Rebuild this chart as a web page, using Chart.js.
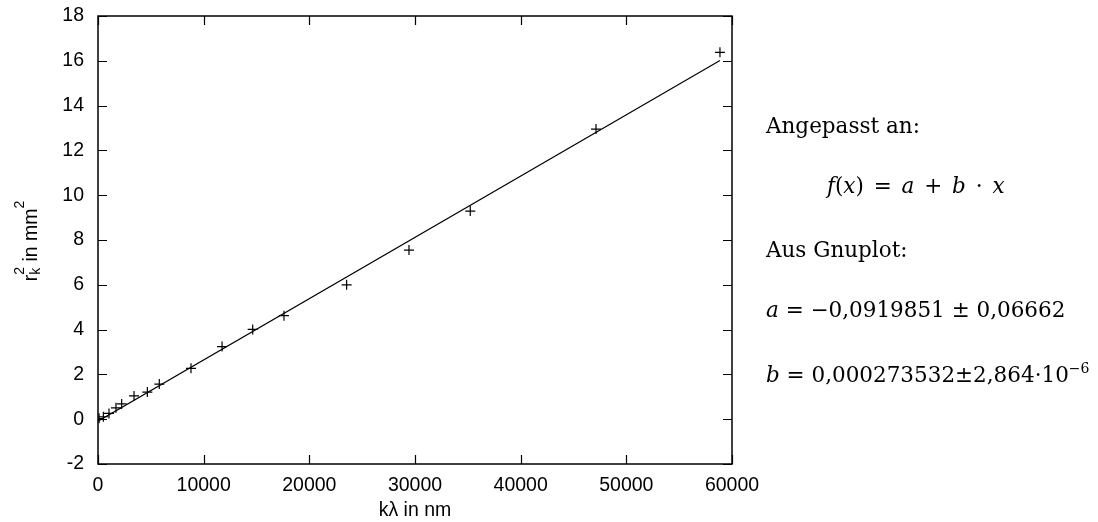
<!DOCTYPE html>
<html>
<head>
<meta charset="utf-8">
<script src="https://cdn.jsdelivr.net/npm/chart.js@4"></script>
<style>
  body { margin:0; background:#fff; }
  #wrap { position:relative; width:1098px; height:522px; }
  canvas { position:absolute; left:0; top:0; }
  .txt { position:absolute; left:766px; font-family:"DejaVu Serif", serif; font-size:21.5px; line-height:20px; color:#000; white-space:nowrap; }
  .txt i { font-style:italic; }
  .txt sup { font-size:14px; line-height:0; vertical-align:9px; }
</style>
</head>
<body>
<div id="wrap">
  <canvas id="fitChart" width="1098" height="522"></canvas>
  <div class="txt" style="top:116px">Angepasst an:</div>
  <div class="txt" style="top:176px;left:827px;word-spacing:3px"><i>f</i>(<i>x</i>) = <i>a</i> + <i>b</i> · <i>x</i></div>
  <div class="txt" style="top:240px">Aus Gnuplot:</div>
  <div class="txt" style="top:300px"><i>a</i> = −0,0919851 ± 0,06662</div>
  <div class="txt" style="top:365px"><i>b</i> = 0,000273532±2,864·10<sup>−6</sup></div>
</div>
<script>
// DATA
const klambda = [100, 505, 1040, 1700, 2240, 3410, 4670, 5800, 8800, 11740, 14640, 17600, 23530, 29430, 35230, 47130, 58860];
const rk2 = [0.04, 0.11, 0.26, 0.51, 0.68, 1.04, 1.21, 1.57, 2.27, 3.24, 4.01, 4.62, 6.00, 7.55, 9.29, 12.95, 16.38];
// fit line a + b*x, end points
const fitX = [0, 58860];
const fitY = [-0.09, 16.01];
const xTicks = [0, 10000, 20000, 30000, 40000, 50000, 60000];
const yTicks = [-2, 0, 2, 4, 6, 8, 10, 12, 14, 16, 18];

const tickFont = { family: "'Liberation Sans', Arial, sans-serif", size: 19.5 };

// gnuplot style frame with inward ticks on all four sides
const frame = {
    id: 'frame',
    afterDraw(chart) {
        const c = chart.ctx, a = chart.chartArea;
        const xs = chart.scales.x, ys = chart.scales.y;
        c.save();
        c.strokeStyle = '#000';
        c.lineWidth = 1.5;
        c.strokeRect(a.left, a.top, a.right - a.left, a.bottom - a.top);
        c.lineWidth = 1.2;
        c.beginPath();
        xTicks.forEach(v => {
            const px = Math.round(xs.getPixelForValue(v)) + 0.5;
            c.moveTo(px, a.bottom); c.lineTo(px, a.bottom - 9);
            c.moveTo(px, a.top); c.lineTo(px, a.top + 9);
        });
        yTicks.forEach(v => {
            const py = Math.round(ys.getPixelForValue(v)) + 0.5;
            c.moveTo(a.left, py); c.lineTo(a.left + 9, py);
            c.moveTo(a.right, py); c.lineTo(a.right - 9, py);
        });
        c.stroke();

        // y axis title: r with stacked sub/superscript
        c.translate(37, (a.top + a.bottom) / 2 + 1);
        c.rotate(-Math.PI / 2);
        c.fillStyle = '#000';
        c.textBaseline = 'alphabetic';
        const big = "19.5px 'Liberation Sans', Arial, sans-serif";
        const small = "14px 'Liberation Sans', Arial, sans-serif";
        c.font = big;
        const wr = c.measureText('r').width, wm = c.measureText(' in mm').width;
        c.font = small;
        const ws = Math.max(c.measureText('2').width, c.measureText('k').width);
        const w2 = c.measureText('2').width;
        let x = -(wr + ws + wm + w2) / 2;
        c.font = big; c.fillText('r', x, 0); x += wr;
        c.font = small; c.fillText('2', x, -13); c.fillText('k', x, 3); x += ws;
        c.font = big; c.fillText(' in mm', x, 0); x += wm;
        c.font = small; c.fillText('2', x, -13);
        c.restore();
    }
};

new Chart(document.getElementById('fitChart'), {
    type: 'scatter',
    data: {
        datasets: [
            {
                label: 'Messwerte',
                data: klambda.map((v, i) => ({ x: v, y: rk2[i] })),
                pointStyle: 'cross',
                pointRadius: 5,
                pointBorderWidth: 1.2,
                borderColor: '#000',
                backgroundColor: '#000'
            },
            {
                label: 'f(x)',
                data: fitX.map((v, i) => ({ x: v, y: fitY[i] })),
                showLine: true,
                pointRadius: 0,
                borderColor: '#000',
                borderWidth: 1.2
            }
        ]
    },
    plugins: [frame],
    options: {
        responsive: false,
        animation: false,
        layout: { padding: { top: 16, right: 366, bottom: 0, left: 0 } },
        plugins: {
            legend: { display: false },
            tooltip: { enabled: false }
        },
        scales: {
            x: {
                type: 'linear',
                min: 0, max: 60000,
                afterBuildTicks: s => { s.ticks = xTicks.map(v => ({ value: v })); },
                afterFit: s => { s.height = 58; s.paddingLeft = 0; s.paddingRight = 0; },
                grid: { display: false },
                border: { display: false },
                ticks: { color: '#000', font: tickFont, padding: 2, maxRotation: 0, callback: v => String(v) },
                title: { display: true, text: 'kλ in nm', color: '#000', font: tickFont, padding: 0 }
            },
            y: {
                type: 'linear',
                min: -2, max: 18,
                afterBuildTicks: s => { s.ticks = yTicks.map(v => ({ value: v })); },
                afterFit: s => { s.width = 98; s.paddingTop = 0; s.paddingBottom = 0; },
                grid: { display: false },
                border: { display: false },
                ticks: { color: '#000', font: tickFont, padding: 6, callback: v => String(v) }
            }
        }
    }
});
</script>
</body>
</html>
